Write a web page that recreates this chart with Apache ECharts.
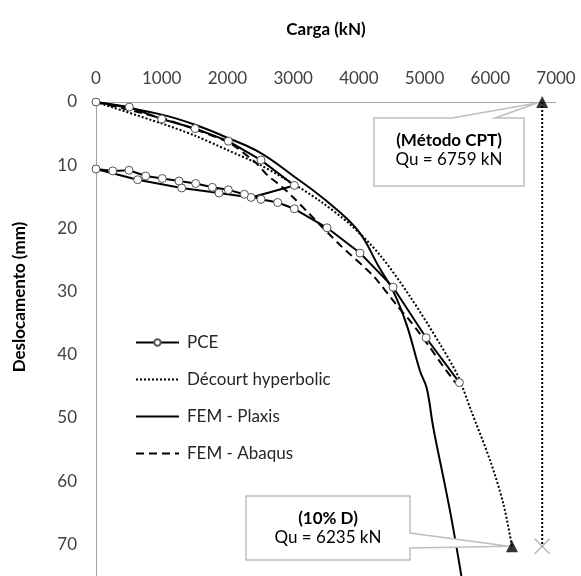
<!DOCTYPE html>
<html><head><meta charset="utf-8">
<script src="https://cdn.jsdelivr.net/npm/echarts@6/dist/echarts.min.js"></script>
<style>html,body{margin:0;padding:0;background:#fff}#c{width:581px;height:576px}</style>
</head><body><div id="c"></div>
<script>
// ---- data (load in kN, displacement in mm) ----
const seriesNames = ['PCE', 'Décourt hyperbolic', 'FEM - Plaxis', 'FEM - Abaqus'];
const xTickValues = [0, 1000, 2000, 3000, 4000, 5000, 6000, 7000];
const yTickValues = [0, 10, 20, 30, 40, 50, 60, 70];

const pceLoad = [0, 507, 1000, 1507, 2014, 2511, 3018,
  2359, 1872, 1304, 634, 0,
  254, 502, 756, 1009, 1263, 1517, 1770, 2014, 2258, 2511, 2765, 3018, 3516, 4018, 4521, 5023, 5530];
const pceDisp = [0, 0.8, 2.7, 4.2, 6.2, 9.2, 13.2,
  15.1, 14.4, 13.6, 12.3, 10.6,
  10.9, 10.8, 11.7, 12.1, 12.5, 12.9, 13.5, 13.9, 14.6, 15.4, 15.9, 16.9, 19.9, 23.9, 29.3, 37.3, 44.4];

const decourtLoad = [0, 1000, 1500, 2000, 2450, 2900, 3400, 3870, 4320, 4780, 5240, 5510, 5700, 6000, 6200, 6330];
const decourtDisp = [0, 3.4, 5.3, 7.6, 9.7, 12.3, 15.6, 19.4, 24.2, 30.8, 38.4, 43.4, 48.6, 56.8, 63.6, 70.3];

const plaxisLoad = [0, 1000, 1507, 2009, 2496, 3003, 3500, 3990, 4310, 4526, 4729, 4932, 5033, 5134, 5286, 5414, 5560];
const plaxisDisp = [0, 2.0, 3.6, 5.7, 8.0, 11.7, 15.6, 20.4, 26.2, 30.0, 35.3, 42.6, 45.3, 51.6, 59.4, 66.2, 75];

const abaqusLoad = [0, 1020, 1500, 2040, 2440, 2620, 2830, 3030, 3200, 3730, 4220, 4580, 4800, 5080, 5260, 5470];
const abaqusDisp = [0, 2.6, 4.3, 6.5, 9.7, 11.7, 13.4, 15.4, 17.2, 22.8, 27.5, 32.2, 34.9, 38.8, 41.5, 44.4];

const quCptLoad = 6790, quCptText = 'Qu = 6759 kN', quCptTitle = '(Método CPT)';
const qu10Load = 6330, qu10Text = 'Qu = 6235 kN', qu10Title = '(10% D)';
const quDisp = [0, 70.3];

const xName = 'Carga (kN)';
const yName = 'Deslocamento (mm)';

const zip = (a, b) => a.map((v, i) => [v, b[i]]);

const FONT = 'Lato';
const chart = echarts.init(document.getElementById('c'), null, {renderer: 'canvas'});
const noSym = {color: 'rgba(0,0,0,0)', borderWidth: 0};

const option = {
  animation: false,
  backgroundColor: '#fff',
  textStyle: {fontFamily: FONT},
  grid: {left: 96, top: 102, width: 460, height: 477, containLabel: false},
  xAxis: {
    type: 'value', position: 'top', min: 0, max: 7000, interval: 1000,
    axisLine: {show: true, lineStyle: {color: '#a6a6a6', width: 1}},
    axisTick: {show: false},
    splitLine: {show: false},
    axisLabel: {margin: 15, fontSize: 17, color: '#404040', fontFamily: FONT,
      formatter: v => (xTickValues.indexOf(v) >= 0 ? String(v) : '')}
  },
  yAxis: {
    type: 'value', inverse: true, min: 0, max: 75, interval: 10,
    axisLine: {show: true, lineStyle: {color: '#a6a6a6', width: 1}},
    axisTick: {show: false},
    splitLine: {show: false},
    axisLabel: {margin: 19, fontSize: 17, color: '#404040', fontFamily: FONT,
      showMaxLabel: false,
      formatter: v => (yTickValues.indexOf(v) >= 0 ? String(v) : '')}
  },
  legend: {
    data: seriesNames,
    orient: 'vertical', left: 135, top: 334, padding: 0,
    itemWidth: 43, itemHeight: 8, itemGap: 20,
    textStyle: {fontSize: 17, color: '#262626', fontFamily: FONT, lineHeight: 17, padding: [0, 0, 0, 3]}
  },
  series: [
    {
      name: seriesNames[1], type: 'line', data: zip(decourtLoad, decourtDisp),
      symbol: 'none', z: 2, smooth: 0.3,
      lineStyle: {color: '#000', width: 2, type: [2, 2]}, itemStyle: noSym
    },
    {
      name: seriesNames[2], type: 'line', data: zip(plaxisLoad, plaxisDisp),
      symbol: 'none', z: 2, smooth: 0.4,
      lineStyle: {color: '#000', width: 2}, itemStyle: noSym
    },
    {
      name: seriesNames[3], type: 'line', data: zip(abaqusLoad, abaqusDisp),
      symbol: 'none', z: 2, smooth: 0.2,
      lineStyle: {color: '#000', width: 2, type: [8, 5]}, itemStyle: noSym
    },
    {
      name: seriesNames[0], type: 'line', data: zip(pceLoad, pceDisp),
      symbol: 'circle', symbolSize: 8, showAllSymbol: true, z: 4,
      lineStyle: {color: '#000', width: 2},
      itemStyle: {color: '#fff', borderColor: '#555', borderWidth: 1}
    },
    {
      name: 'CPT line', type: 'line', data: zip([quCptLoad, quCptLoad], quDisp),
      symbol: 'none', z: 2,
      lineStyle: {color: '#000', width: 2, type: [2, 2]}
    },
    {
      name: 'Qu markers', type: 'scatter', z: 5,
      data: [[quCptLoad, quDisp[0]], [qu10Load, quDisp[1]]],
      symbol: 'triangle', symbolSize: 12, itemStyle: {color: '#000'}
    },
    {
      name: 'Cross', type: 'scatter', z: 5,
      data: [[quCptLoad, quDisp[1]]],
      symbol: 'path://M0,0L10,10M10,0L0,10', symbolSize: 15,
      itemStyle: {color: 'rgba(0,0,0,0)', borderColor: '#9a9a9a', borderWidth: 1.2}
    }
  ]
};
chart.setOption(option);

// annotations: axis titles and callouts
const pTop = chart.convertToPixel({gridIndex: 0}, [quCptLoad, quDisp[0]]);
const pBot = chart.convertToPixel({gridIndex: 0}, [qu10Load, quDisp[1]]);
const b1 = {x1: 374, y1: 118, x2: 524, y2: 186};
const b2 = {x1: 246, y1: 496, x2: 410, y2: 560};
const boxStyle = {fill: '#fff', stroke: '#bfbfbf', lineWidth: 1.5};
chart.setOption({
  graphic: [
    {type: 'text', x: 326, y: 30, z: 10,
      style: {text: xName, font: 'bold 17px ' + FONT, fill: '#000', align: 'center', verticalAlign: 'middle'}},
    {type: 'text', x: 20, y: 297, rotation: Math.PI / 2, z: 10,
      style: {text: yName, font: 'bold 17px ' + FONT, fill: '#000', align: 'center', verticalAlign: 'middle'}},
    {type: 'polygon', z: 8, shape: {points: [
      [b1.x1, b1.y1], [452, b1.y1], [pTop[0] - 5, pTop[1] + 1], [495, b1.y1], [b1.x2, b1.y1],
      [b1.x2, b1.y2], [b1.x1, b1.y2]]}, style: boxStyle},
    {type: 'text', x: (b1.x1 + b1.x2) / 2, y: 141, z: 9,
      style: {text: quCptTitle, font: 'bold 17px ' + FONT, fill: '#000', align: 'center', verticalAlign: 'middle'}},
    {type: 'text', x: (b1.x1 + b1.x2) / 2, y: 160, z: 9,
      style: {text: quCptText, font: '17px ' + FONT, fill: '#000', align: 'center', verticalAlign: 'middle'}},
    {type: 'polygon', z: 8, shape: {points: [
      [b2.x1, b2.y1], [b2.x2, b2.y1], [b2.x2, 533], [pBot[0] - 3, pBot[1]], [b2.x2, 548],
      [b2.x2, b2.y2], [b2.x1, b2.y2]]}, style: boxStyle},
    {type: 'text', x: (b2.x1 + b2.x2) / 2, y: 519, z: 9,
      style: {text: qu10Title, font: 'bold 17px ' + FONT, fill: '#000', align: 'center', verticalAlign: 'middle'}},
    {type: 'text', x: (b2.x1 + b2.x2) / 2, y: 538, z: 9,
      style: {text: qu10Text, font: '17px ' + FONT, fill: '#000', align: 'center', verticalAlign: 'middle'}}
  ]
});
</script>
</body></html>
